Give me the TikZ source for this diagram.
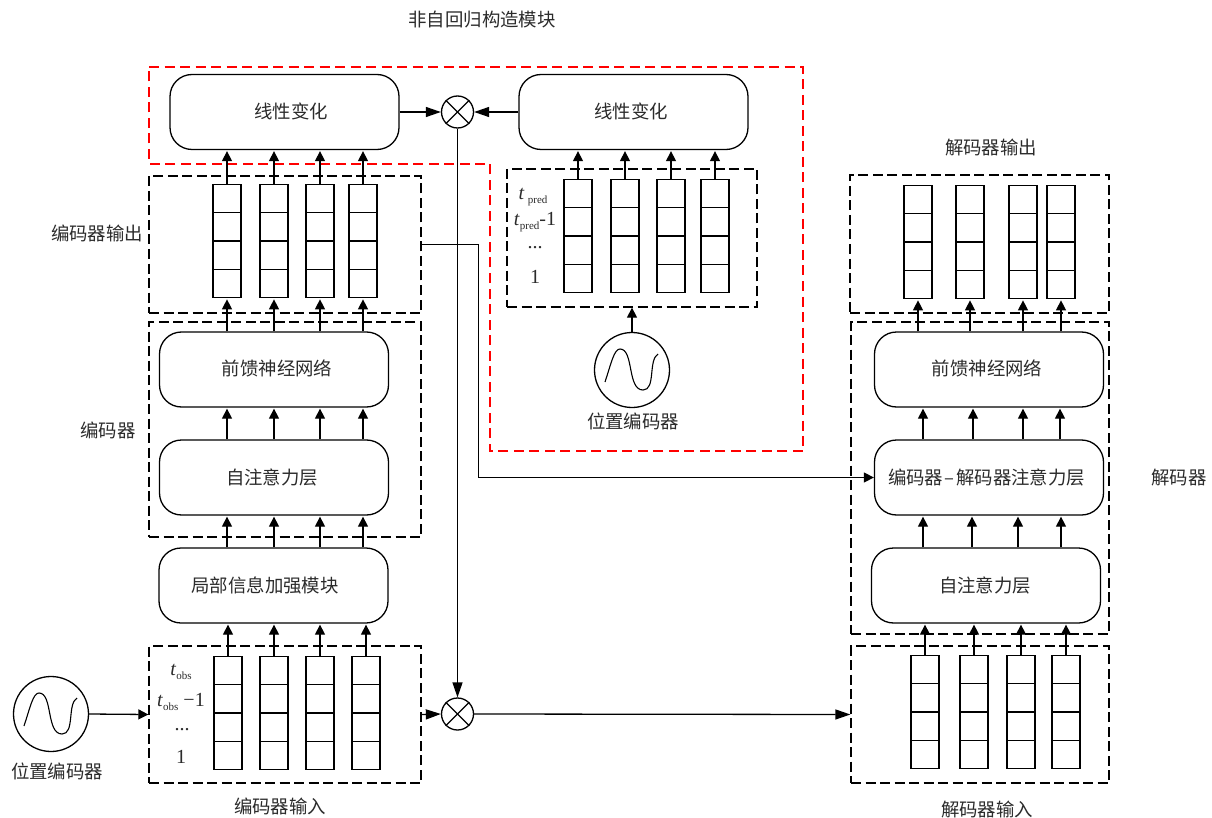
\documentclass[tikz,border=0pt]{standalone}
\usepackage{xcolor}
\usepackage{fontspec}
\setmainfont{Liberation Serif}
\newfontfamily\cjk{Noto Sans CJK SC}
\usepackage{tikz}
\usetikzlibrary{arrows.meta,positioning}
\definecolor{ModuleRed} {HTML}{FF0000}
\definecolor{LineBlack} {HTML}{000000}
\definecolor{LabelGray} {HTML}{2B2B2B}
\tikzset{
    wire/.style={draw=LineBlack,line width=1.3pt},
    flow/.style={wire,-{Triangle[length=10pt,width=10pt]},shorten >=1pt},
    longflow/.style={wire,-{Triangle[length=15pt,width=10pt]}},
    groupbox/.style={draw=LineBlack,line width=1.3pt,dash pattern=on 10pt off 4.5pt,inner sep=0pt},
    layerbox/.style={draw=LineBlack,line width=1.3pt,rounded corners=22pt,inner sep=0pt,
        minimum width=229pt,minimum height=75pt},
    cellbox/.style={draw=LineBlack,line width=1.3pt,inner sep=0pt,minimum width=28pt,minimum height=28.3pt},
    mixer/.style={circle,draw=LineBlack,line width=1.3pt,inner sep=0pt,minimum size=32pt},
    encoderdot/.style={circle,draw=LineBlack,line width=1.3pt,inner sep=0pt,minimum size=75pt},
    caption/.style={inner sep=0pt,text=LabelGray,font=\cjk\fontsize{18.4}{20}\selectfont},
    stepmark/.style={inner sep=0pt,text=LabelGray,font=\fontsize{20}{22}\selectfont}
}
\newcommand{\subtext}[1]{\raisebox{-4pt}{\fontsize{11}{11}\selectfont #1}}
\begin{document}
\begin{tikzpicture}[x=1pt,y=-1pt]
    \useasboundingbox (0,0) rectangle (1212,818);

    \draw[ModuleRed,line width=1.3pt,dash pattern=on 10pt off 5.5pt]
        (149,67) -- (803,67) -- (803,451) -- (490,451) -- (490,164) -- (149,164) -- cycle;

    \node[groupbox,minimum width=272pt,minimum height=137pt] (encOutBox) at (285,244.5) {};
    \node[groupbox,minimum width=272pt,minimum height=215pt] (encBox) at (285,429.5) {};
    \node[groupbox,minimum width=272pt,minimum height=137pt] (encInBox) at (285,714.5) {};
    \node[groupbox,minimum width=250pt,minimum height=138pt] (predBox) at (632,238) {};
    \node[groupbox,minimum width=259pt,minimum height=138pt] (decOutBox) at (979.5,244) {};
    \node[groupbox,minimum width=258pt,minimum height=312pt] (decBox) at (980,478) {};
    \node[groupbox,minimum width=258pt,minimum height=137pt] (decInBox) at (980,714.5) {};

    \node[layerbox] (linearL) at (284.5,112) {};
    \node[layerbox] (linearR) at (633.5,112) {};
    \node[layerbox] (encFF) at (274,369.5) {};
    \node[layerbox] (encAttn) at (274,477.5) {};
    \node[layerbox] (localBox) at (273.5,585.5) {};
    \node[layerbox] (decFF) at (989,369.5) {};
    \node[layerbox] (decCross) at (989,477.5) {};
    \node[layerbox] (decAttn) at (986,585.5) {};

    \node[caption] (linearLText) at (291,111) {线性变化};
    \node[caption] (linearRText) at (631,111) {线性变化};
    \node[caption] (encFFText) at (277,368.5) {前馈神经网络};
    \node[caption] (encAttnText) at (272,477.5) {自注意力层};
    \node[caption] (localText) at (265,585.5) {局部信息加强模块};
    \node[caption] (decFFText) at (987,368.5) {前馈神经网络};
    \node[caption] (decCrossText) at (986.5,477.5) {编码器\makebox[13pt]{–}解码器注意力层};
    \node[caption] (decAttnText) at (985,585.5) {自注意力层};

    \foreach \col/\cx/\cy in {encOutA/227/184.5,encOutB/274/184.5,encOutC/320/184.5,encOutD/363/184.5,
                              encInA/228/656.5,encInB/274/656.5,encInC/320/656.5,encInD/366/656.5,
                              predA/578/179.5,predB/625/179.5,predC/671/179.5,predD/715/179.5,
                              decOutA/918/185.5,decOutB/970/185.5,decOutC/1023/185.5,decOutD/1061/185.5,
                              decInA/925/655.5,decInB/974/655.5,decInC/1021/655.5,decInD/1066/655.5}
        \foreach \r in {1,...,4}
            \node[cellbox] (\col-\r) at (\cx,{\cy+14.15+(\r-1)*28.3}) {};

    \foreach \col/\tgt in {encOutA/linearL,encOutB/linearL,encOutC/linearL,encOutD/linearL,
                           encInA/localBox,encInB/localBox,encInC/localBox,encInD/localBox,
                           predA/linearR,predB/linearR,predC/linearR,predD/linearR,
                           decInA/decAttn,decInB/decAttn,decInC/decAttn,decInD/decAttn}
        \draw[flow] (\col-1.north) -- (\tgt.south -| \col-1.north);

    \foreach \col/\src in {encOutA/encFF,encOutB/encFF,encOutC/encFF,encOutD/encFF,
                           decOutA/decFF,decOutB/decFF,decOutC/decFF,decOutD/decFF}
        \draw[flow] (\src.north -| \col-4.south) -- (\col-4.south);

    \foreach \x in {227,274,320,363} {
        \draw[flow] (localBox.north -| \x,0) -- (encAttn.south -| \x,0);
        \draw[flow] (encAttn.north -| \x,0) -- (encFF.south -| \x,0);
    }
    \foreach \x in {923,972,1018,1061}
        \draw[flow] (decAttn.north -| \x,0) -- (decCross.south -| \x,0);
    \foreach \x in {923,973,1023,1060}
        \draw[flow] (decCross.north -| \x,0) -- (decFF.south -| \x,0);

    \node[mixer] (mixTop) at (457.5,112) {};
    \node[mixer] (mixBottom) at (457.5,714) {};
    \foreach \m in {mixTop,mixBottom} {
        \draw[wire] (\m.45) -- (\m.225);
        \draw[wire] (\m.135) -- (\m.315);
    }

    \node[encoderdot] (posL) at (51,714) {};
    \node[encoderdot] (posR) at (632,370) {};
    \foreach \c in {posL,posR}
        \draw[wire,line width=1.1pt,shift={(\c.center)}] (-27,12) .. controls (-21,-6) and (-18,-21) .. (-12,-21)
            .. controls (2,-21) and (-5,20) .. (11,20) .. controls (24,20) and (16,-10) .. (26,-16);

    \draw[longflow] (linearL.east) -- (mixTop.west);
    \draw[longflow] (linearR.west) -- (mixTop.east);
    \draw[longflow] (mixTop.south) -- (mixBottom.north);
    \draw[longflow] (encInBox.east) -- (mixBottom.west);
    \draw[longflow] (mixBottom.east) -- (decInBox.west);
    \draw[flow,shorten >=0pt] (posL.east) -- (encInBox.west);
    \draw[flow,shorten >=0pt] (posR.north) -- (predBox.south);
    \draw[flow,shorten >=0pt] (encOutBox.east) -- ++(57,0) |- (decCross.west);

    \node[caption] (moduleText) at (482,19.5) {非自回归构造模块};
    \node[caption] (encOutText) at (97,233.5) {编码器输出};
    \node[caption] (encText) at (108,430.5) {编码器};
    \node[caption] (encInText) at (280,806.5) {编码器输入};
    \node[caption] (posLText) at (57,771.5) {位置编码器};
    \node[caption] (posRText) at (633,421.5) {位置编码器};
    \node[caption] (decOutText) at (991,147.5) {解码器输出};
    \node[caption] (decText) at (1179,477.5) {解码器};
    \node[caption] (decInText) at (987,809.5) {解码器输入};

    \node[stepmark] (obsTop) at (181,672) {\textit{t}\subtext{obs}};
    \node[stepmark] (obsNext) at (181,702) {\textit{t}\subtext{obs} −1};
    \node[stepmark] (obsDots) at (182,730) {...};
    \node[stepmark] (obsOne) at (181,757) {1};
    \node[stepmark] (predTop) at (533,197) {\textit{t}\,\subtext{pred}};
    \node[stepmark] (predNext) at (535,222) {\textit{t}\subtext{pred}-1};
    \node[stepmark] (predDots) at (535,248) {...};
    \node[stepmark] (predOne) at (535,277) {1};
\end{tikzpicture}
\end{document}
